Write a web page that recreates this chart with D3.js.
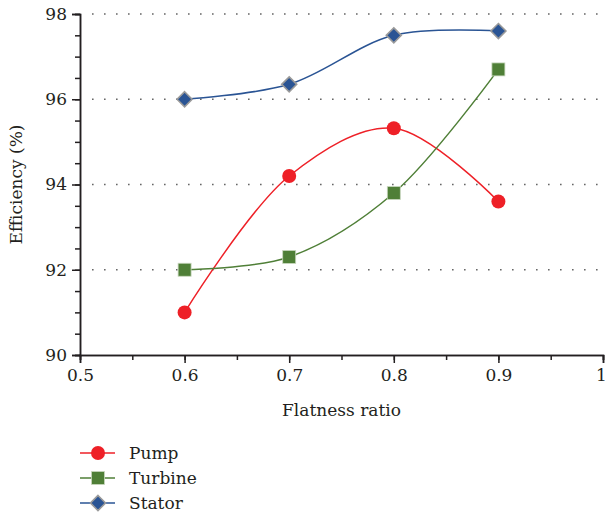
<!DOCTYPE html>
<html>
<head>
<meta charset="utf-8">
<script src="https://cdn.jsdelivr.net/npm/d3@7"></script>
<style>
  html, body { margin: 0; padding: 0; background: #fff; }
  svg { display: block; }
  svg text { font-family: "DejaVu Serif", "Liberation Serif", serif !important; fill: #231f20; }
</style>
</head>
<body>
<script>
// Flatness ratio vs. efficiency for the three components
const flatness = [0.6, 0.7, 0.8, 0.9];
const pump = [91.0, 94.2, 95.32, 93.6];
const turbine = [92.0, 92.3, 93.8, 96.7];
const stator = [96.0, 96.35, 97.5, 97.6];
const xTicks = [0.5, 0.6, 0.7, 0.8, 0.9, 1];
const yTicks = [90, 92, 94, 96, 98];
const seriesNames = ["Pump", "Turbine", "Stator"];

const W = 606, H = 519;
const FONT = "'DejaVu Serif', 'Liberation Serif', serif";
const svg = d3.select("body").append("svg").attr("width", W).attr("height", H)
  .attr("font-family", FONT);

const x = d3.scaleLinear().domain([0.5, 1]).range([80, 603]);
const y = d3.scaleLinear().domain([90, 98]).range([355, 14]);

// dotted horizontal gridlines
svg.append("g").selectAll("line")
  .data(yTicks.filter(v => v > 90))
  .join("line")
  .attr("x1", x(0.5) + 12).attr("x2", x(1))
  .attr("y1", d => y(d)).attr("y2", d => y(d))
  .attr("stroke", "#666").attr("stroke-width", 1.6)
  .attr("stroke-dasharray", "1.6,10.4");

// y axis: major ticks labelled, minor every 0.5
const yAxis = svg.append("g").attr("transform", `translate(${x(0.5)},0)`);
yAxis.call(d3.axisLeft(y).tickValues(d3.range(90, 98.01, 0.5)).tickSize(5).tickFormat(""));
yAxis.call(g => g.append("g").call(d3.axisLeft(y).tickValues(yTicks).tickSize(8).tickPadding(5).tickFormat(d3.format("d"))));

// x axis: major ticks labelled, minor every 0.05
const xAxis = svg.append("g").attr("transform", `translate(0,${y(90)})`);
xAxis.call(d3.axisBottom(x).tickValues(d3.range(0.5, 1.001, 0.05)).tickSize(5).tickFormat(""));
xAxis.call(g => g.append("g").call(d3.axisBottom(x).tickValues(xTicks).tickSize(8).tickPadding(6).tickFormat(d => d === 1 ? "1" : d3.format(".1f")(d))));
xAxis.selectAll("text").filter(d => d === 1).attr("dx", -2);

[xAxis, yAxis].forEach(a => {
  a.attr("font-family", FONT);
  a.selectAll("g").attr("font-family", FONT);
  a.selectAll(".domain").attr("stroke", "#231f20").attr("stroke-width", 1.5);
  a.selectAll(".tick line").attr("stroke", "#231f20").attr("stroke-width", 1.5);
  a.selectAll("text").attr("font-size", 17).attr("fill", "#231f20").style("font-size", "17px");
});

// axis titles
svg.append("text")
  .attr("x", (x(0.5) + x(1)) / 2).attr("y", 416)
  .attr("text-anchor", "middle").style("font-size", "17px")
  .text("Flatness ratio");
svg.append("text")
  .attr("transform", `translate(22,${y(94)}) rotate(-90)`)
  .attr("text-anchor", "middle").style("font-size", "17px")
  .text("Efficiency (%)");

const series = [
  { name: seriesNames[0], values: pump, color: "#ee2027", shape: "circle" },
  { name: seriesNames[1], values: turbine, color: "#4f7f37", shape: "square" },
  { name: seriesNames[2], values: stator, color: "#2a5494", shape: "diamond" }
];

const line = d3.line()
  .x(d => x(d[0])).y(d => y(d[1]))
  .curve(d3.curveCatmullRom.alpha(0.5));

function marker(g, s, cx, cy) {
  if (s.shape === "circle") {
    g.append("circle").attr("cx", cx).attr("cy", cy).attr("r", 7).attr("fill", s.color);
  } else if (s.shape === "square") {
    g.append("rect").attr("x", cx - 6.5).attr("y", cy - 6.5).attr("width", 13).attr("height", 13)
      .attr("fill", s.color).attr("stroke", "#c9d8bf").attr("stroke-width", 0.8);
  } else {
    const r = 7.5;
    g.append("path")
      .attr("d", `M${cx},${cy - r}L${cx + r},${cy}L${cx},${cy + r}L${cx - r},${cy}Z`)
      .attr("fill", s.color).attr("stroke", "#9a9a9a").attr("stroke-width", 1.6);
  }
}

series.forEach(s => {
  const pts = flatness.map((f, i) => [f, s.values[i]]);
  svg.append("path").datum(pts).attr("d", line)
    .attr("fill", "none").attr("stroke", s.color).attr("stroke-width", 1.5);
  const g = svg.append("g");
  pts.forEach(p => marker(g, s, x(p[0]), y(p[1])));
});

// legend
const legend = svg.append("g");
series.forEach((s, i) => {
  const ly = 453 + i * 25;
  legend.append("line").attr("x1", 80).attr("x2", 115).attr("y1", ly).attr("y2", ly)
    .attr("stroke", s.color).attr("stroke-width", 1.5);
  marker(legend, s, 98, ly);
  legend.append("text").attr("x", 129).attr("y", ly + 6).style("font-size", "17px").text(s.name);
});
</script>
</body>
</html>
